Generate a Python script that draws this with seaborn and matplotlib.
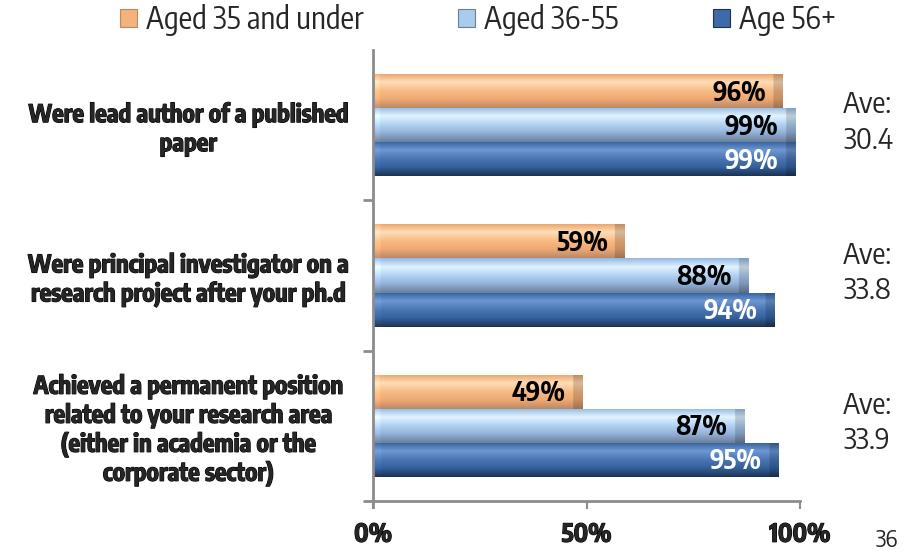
import numpy as np
import pandas as pd
import matplotlib
matplotlib.use("Agg")
import matplotlib.pyplot as plt
import matplotlib.patheffects as pe
import matplotlib.transforms as mtransforms
from matplotlib import font_manager
from matplotlib.colors import LinearSegmentedColormap
from matplotlib.patches import Patch
import seaborn as sns

# --- data -------------------------------------------------------------------
categories = [
    "Were lead author of a published\npaper",
    "Were principal investigator on a\nresearch project after your ph.d",
    "Achieved a permanent position\nrelated to your research area\n(either in academia or the\ncorporate sector)",
]
groups = ["Aged 35 and under", "Aged 36-55", "Age 56+"]
aged_35_under = [96, 59, 49]
aged_36_55 = [99, 88, 87]
age_56_plus = [99, 94, 95]
average_age = ["30.4", "33.8", "33.9"]
x_ticks = [0, 50, 100]
x_tick_labels = ["0%", "50%", "100%"]
page_number = "36"

series = [aged_35_under, aged_36_55, age_56_plus]
df = pd.DataFrame({
    "category": categories * 3,
    "group": np.repeat(groups, len(categories)),
    "value": aged_35_under + aged_36_55 + age_56_plus,
})


# --- fonts: prefer a narrow sans face when one is installed ----------------
def pick_narrow():
    fonts = font_manager.fontManager.ttflist
    for f in fonts:
        if any(k in f.name for k in ("Narrow", "Condensed")) and "Sans" in f.name:
            return f.name, "normal"
    for fam in ("Liberation Sans", "Noto Sans", "Roboto", "Open Sans", "DejaVu Sans"):
        for f in fonts:
            if f.name == fam and f.stretch not in ("normal", 500):
                return fam, "condensed"
    return None, "normal"


narrow_name, narrow_stretch = pick_narrow()
if narrow_name is None:
    family = ["Liberation Sans", "DejaVu Sans"]
    scale = 0.82          # regular-width face: shrink to keep the line lengths
else:
    family = [narrow_name, "Liberation Sans", "DejaVu Sans"]
    scale = 1.0

sns.set_theme(style="white")
plt.rcParams["font.family"] = family
plt.rcParams["font.stretch"] = narrow_stretch


def fs(pt):
    return pt * scale


base_colors = ["#F5B27A", "#A9CBEE", "#3F69A8"]
# vertical shading stops (top -> bottom) giving the glossy tube look
gradients = [
    ["#E9A266", "#FFDDB8", "#F8BC86", "#EFA872", "#B98A66"],
    ["#94B8E2", "#E2F4FF", "#B2D2F2", "#90B0D8", "#6C7F96"],
    ["#33609E", "#6E98D2", "#4A76B4", "#34609C", "#1C3254"],
]
text_colors = ["black", "black", "white"]

fig = plt.figure(figsize=(9.19, 5.53), dpi=100)
ax = fig.add_axes([373 / 919, 1 - 501 / 553, 427 / 919, 451 / 553])

sns.barplot(
    data=df, y="category", x="value", hue="group", orient="h",
    palette=base_colors, saturation=1, width=0.68, gap=0,
    legend=False, ax=ax,
)

ax.set_xlim(0, 100)
ax.set_ylim(2.5, -0.5)
ax.set_xlabel("")
ax.set_ylabel("")

# --- glossy fill for every bar ---------------------------------------------
for k, (container, stops) in enumerate(zip(ax.containers, gradients)):
    cmap = LinearSegmentedColormap.from_list(f"g{k}", stops)
    for bar, val in zip(container, series[k]):
        x0, y0 = bar.get_x(), bar.get_y()
        w, h = bar.get_width(), bar.get_height()
        ncol, nrow = 300, 64
        t = np.linspace(0, 1, nrow)[:, None]
        img = cmap(np.repeat(t, ncol, axis=1))[..., :3]
        xs = np.linspace(x0, x0 + w, ncol)
        # bevelled ends: lighter on the left cap, darker on the right cap
        right = xs > (x0 + w - 2.2)
        left = xs < (x0 + 1.6)
        img[:, right, :] *= 0.84
        img[:, left, :] = np.clip(img[:, left, :] * 1.06, 0, 1)
        bar.set_facecolor("none")
        bar.set_edgecolor("none")
        im = ax.imshow(
            img, extent=(x0, x0 + w, y0 + h, y0), aspect="auto",
            interpolation="bilinear", zorder=2,
        )
        im.set_clip_path(bar)
        ax.text(
            x0 + w - 4.0, y0 + h / 2 + 0.01, f"{val}%", ha="right", va="center",
            fontsize=fs(19), fontweight="bold", color=text_colors[k], zorder=4,
        )

# --- axes -------------------------------------------------------------------
for side in ["top", "right"]:
    ax.spines[side].set_visible(False)
for side in ["left", "bottom"]:
    ax.spines[side].set_color("#8C8C8C")
    ax.spines[side].set_linewidth(2)
ax.spines["left"].set_bounds(2.54, -0.5)

ax.set_xticks(x_ticks)
ax.set_xticklabels(x_tick_labels, fontsize=fs(18), fontweight="bold")
ax.tick_params(axis="x", length=6, width=1.5, color="#8C8C8C", pad=9,
               bottom=True)

ax.set_yticks(range(len(categories)))
ax.set_yticklabels(categories, fontsize=fs(17.5), fontweight="bold",
                   ha="center", multialignment="center", linespacing=1.15)
ax.tick_params(axis="y", length=0, pad=133, left=True)
ax.set_yticks([0.5, 1.5, 2.5], minor=True)
ax.tick_params(axis="y", which="minor", length=7, width=2, color="#8C8C8C",
               left=True)
for lbl in ax.get_yticklabels() + ax.get_xticklabels():
    lbl.set_path_effects([pe.withStroke(linewidth=0.8, foreground="black")])

# --- average age notes ------------------------------------------------------
note_tr = mtransforms.blended_transform_factory(fig.transFigure, ax.transData)
for i, ave in enumerate(average_age):
    ax.text(843 / 919, i - 0.02, f"Ave:\n{ave}", transform=note_tr,
            ha="left", va="center", fontsize=fs(21), linespacing=1.25)

fig.text(876 / 919, 1 - 540 / 553, page_number, fontsize=fs(17), va="center")

# --- legend -----------------------------------------------------------------
handles = [Patch(facecolor=c, edgecolor=g[-1], linewidth=0.8)
           for c, g in zip(base_colors, gradients)]
legend_left = [120, 458, 713]
for h, label, xl in zip(handles, groups, legend_left):
    fig.legend(
        [h], [label], loc="center left", bbox_to_anchor=(xl / 919, 1 - 20 / 553),
        frameon=False, fontsize=fs(22), handlelength=0.55, handleheight=0.55,
        handletextpad=0.3, borderpad=0, borderaxespad=0,
    )

fig.savefig("out.png", dpi=100)
